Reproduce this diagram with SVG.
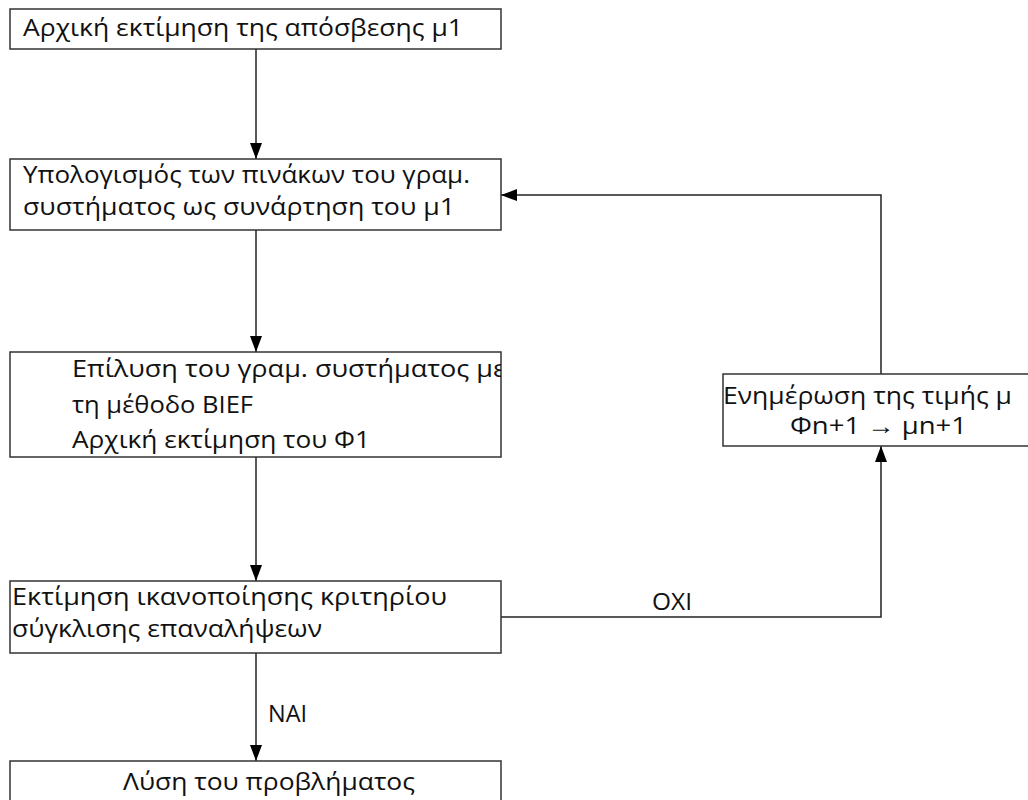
<svg xmlns="http://www.w3.org/2000/svg" width="1028" height="800" viewBox="0 0 1028 800">
<defs>
<marker id="arr" viewBox="0 0 16 12" refX="16" refY="6" markerWidth="16" markerHeight="12" markerUnits="userSpaceOnUse" orient="auto">
<path d="M0,0 L16,6 L0,12 z" fill="#000"/>
</marker>
<clipPath id="clip3"><rect x="10" y="352" width="491" height="105"/></clipPath>
<style>
.box{fill:#fff;stroke:#333;stroke-width:1.5}
.t{font-family:"Open Sans","Noto Sans",sans-serif;font-size:24px;fill:#111}
.c{fill:none;stroke:#222;stroke-width:1.5}
</style>
</defs>
<rect width="1028" height="800" fill="#fff"/>
<g id="connectors">
<line class="c" x1="256" y1="49" x2="256" y2="159" marker-end="url(#arr)"/>
<line class="c" x1="256" y1="230" x2="256" y2="352" marker-end="url(#arr)"/>
<line class="c" x1="256" y1="457" x2="256" y2="581" marker-end="url(#arr)"/>
<line class="c" x1="256" y1="653" x2="256" y2="761" marker-end="url(#arr)"/>
<polyline class="c" points="501,617 881,617 881,446" marker-end="url(#arr)"/>
<polyline class="c" points="881,374 881,195 501,195" marker-end="url(#arr)"/>
<text class="t" x="268" y="722" textLength="39" lengthAdjust="spacingAndGlyphs">NAI</text>
<text class="t" x="652" y="610" textLength="40" lengthAdjust="spacingAndGlyphs">OXI</text>
</g>
<g id="n1">
<rect class="box" x="10" y="9" width="491" height="40"/>
<text class="t" x="23" y="36" textLength="440" lengthAdjust="spacingAndGlyphs">Αρχική εκτίμηση της απόσβεσης μ1</text>
</g>
<g id="n2">
<rect class="box" x="10" y="159" width="491" height="71"/>
<text class="t" x="23" y="183" textLength="447" lengthAdjust="spacingAndGlyphs">Υπολογισμός των πινάκων του γραμ.</text>
<text class="t" x="23" y="215" textLength="432" lengthAdjust="spacingAndGlyphs">συστήματος ως συνάρτηση του μ1</text>
</g>
<g id="n3">
<rect class="box" x="10" y="352" width="491" height="105"/>
<g clip-path="url(#clip3)">
<text class="t" x="72" y="377" textLength="434" lengthAdjust="spacingAndGlyphs">Επίλυση του γραμ. συστήματος με</text>
</g>
<text class="t" x="72" y="413" textLength="181" lengthAdjust="spacingAndGlyphs">τη μέθοδο BIEF</text>
<text class="t" x="72" y="448" textLength="298" lengthAdjust="spacingAndGlyphs">Αρχική εκτίμηση του Φ1</text>
</g>
<g id="n4">
<rect class="box" x="723" y="374" width="310" height="72"/>
<text class="t" x="723" y="404" textLength="289" lengthAdjust="spacingAndGlyphs">Ενημέρωση της τιμής μ</text>
<text class="t" x="790" y="434" textLength="177" lengthAdjust="spacingAndGlyphs">Φn+1 → μn+1</text>
</g>
<g id="n5">
<rect class="box" x="10" y="581" width="491" height="72"/>
<text class="t" x="12" y="605" textLength="435" lengthAdjust="spacingAndGlyphs">Εκτίμηση ικανοποίησης κριτηρίου</text>
<text class="t" x="12" y="637" textLength="310" lengthAdjust="spacingAndGlyphs">σύγκλισης επαναλήψεων</text>
</g>
<g id="n6">
<rect class="box" x="10" y="761" width="491" height="50"/>
<text class="t" x="123" y="790" textLength="292" lengthAdjust="spacingAndGlyphs">Λύση του προβλήματος</text>
</g>
</svg>
